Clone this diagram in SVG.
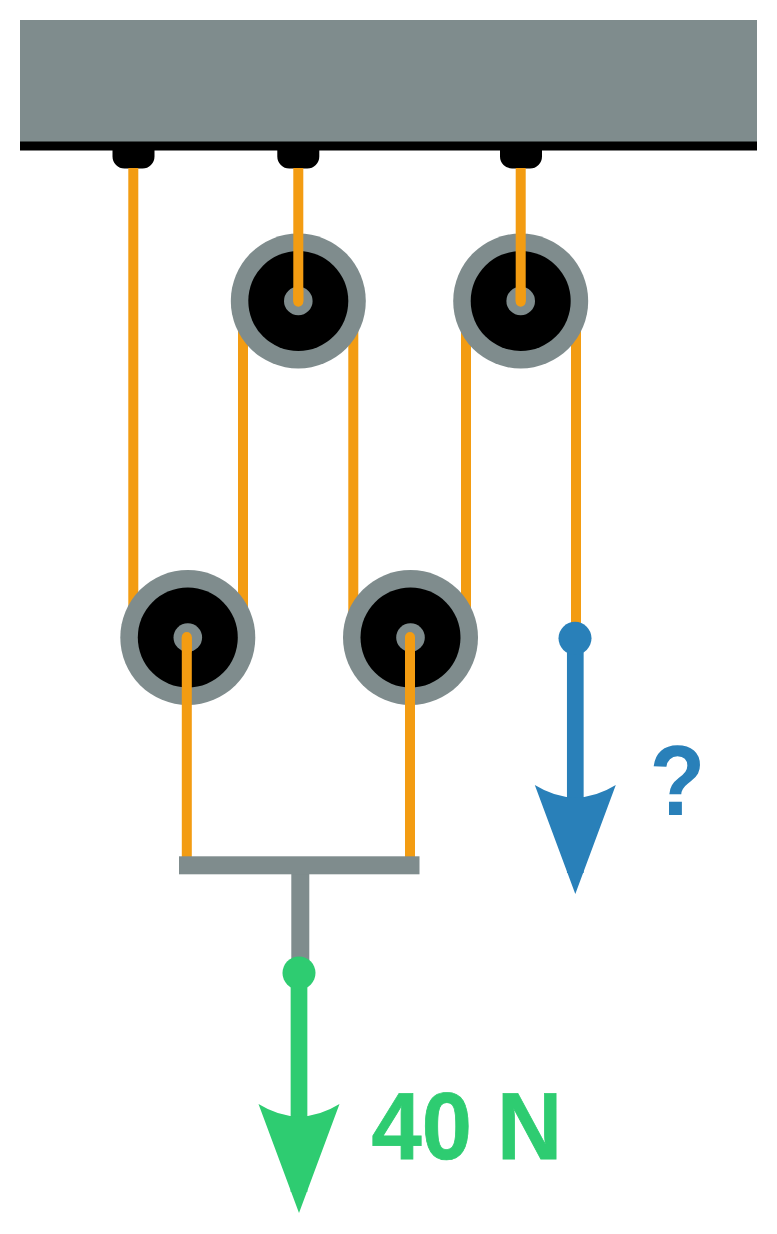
<svg xmlns="http://www.w3.org/2000/svg" width="777" height="1234" viewBox="0 0 777 1234">
  <style>
    .rope { stroke: #f39c12; stroke-width: 10; fill: none; stroke-linecap: round; }
    .rim { fill: #7f8c8d; }
    .disc { fill: #000; }
    .grey { fill: #7f8c8d; }
    .black { fill: #000; }
    .label { font-family: "Liberation Sans", Arial, sans-serif; font-weight: 700; text-rendering: geometricPrecision; }
    .blue { fill: #2980b9; }
    .green { fill: #2ecc71; }
  </style>
  <defs>
    <g id="pulley">
      <circle class="rim" r="67.5"/>
      <circle class="disc" r="50"/>
      <circle class="rim" r="14.3"/>
    </g>
    <path id="anchor" d="M0 0H42V6.500A12 12 0 0 1 30 18.500H12A12 12 0 0 1 0 6.500Z"/>
    <marker id="headBlue" markerUnits="userSpaceOnUse" markerWidth="112" markerHeight="84" viewBox="0 0 112 84" refX="88" refY="41" orient="auto">
      <path class="blue" d="M0 0.500Q25 41 0 81.500L109 41Z"/>
    </marker>
    <marker id="headGreen" markerUnits="userSpaceOnUse" markerWidth="112" markerHeight="84" viewBox="0 0 112 84" refX="88" refY="41" orient="auto">
      <path class="green" d="M0 0.500Q25 41 0 81.500L109 41Z"/>
    </marker>
  </defs>
  <rect width="777" height="1234" fill="#fff"/>
  <g id="ceiling">
    <rect class="grey" x="20" y="20" width="737" height="122"/>
    <rect class="black" x="20" y="141.500" width="737" height="9"/>
    <use class="black" href="#anchor" x="112.500" y="150"/>
    <use class="black" href="#anchor" x="277.300" y="150"/>
    <use class="black" href="#anchor" x="500" y="150"/>
  </g>
  <g id="ropes-behind">
    <path class="rope" style="stroke-linecap:butt" d="M133.300 168V637M243 301V637M353.300 301V637M466 301V637M576 301V640"/>
  </g>
  <g id="pulley-top-left"><use href="#pulley" x="298.300" y="301"/></g>
  <g id="pulley-top-right"><use href="#pulley" x="520.700" y="301"/></g>
  <g id="pulley-bottom-left"><use href="#pulley" x="187.800" y="637.500"/></g>
  <g id="pulley-bottom-right"><use href="#pulley" x="410.500" y="637.500"/></g>
  <g id="load-bar">
    <rect class="grey" x="291.300" y="870" width="18" height="100"/>
  </g>
  <g id="ropes-front">
    <path class="rope" style="stroke-linecap:butt" d="M298.300 168V301.500M520.700 168V301.500M186.800 637V860M410 637V860"/>
    <path class="rope" d="M298.300 290V301.700M520.700 290V301.700M186.800 637V650M410 637V650"/>
  </g>
  <g id="load-bar-top">
    <rect class="grey" x="179" y="856.300" width="240.500" height="18"/>
  </g>
  <g id="connectors">
    <line x1="575.300" y1="638" x2="575.300" y2="873" stroke="#2980b9" stroke-width="16.700" marker-end="url(#headBlue)"/>
    <line x1="299" y1="973" x2="299" y2="1192" stroke="#2ecc71" stroke-width="16.700" marker-end="url(#headGreen)"/>
  </g>
  <g id="force-unknown">
    <circle class="blue" cx="575" cy="638.300" r="16.500"/>
    <text class="label blue" transform="translate(649.500 814.500) scale(.95 1.04)" font-size="96">?</text>
  </g>
  <g id="force-load">
    <circle class="green" cx="299" cy="973" r="16.500"/>
    <text class="label green" transform="translate(371.500 1159.300) scale(.97 1.025)" font-size="93" stroke="#2ecc71" stroke-width=".8">40 N</text>
  </g>
</svg>
